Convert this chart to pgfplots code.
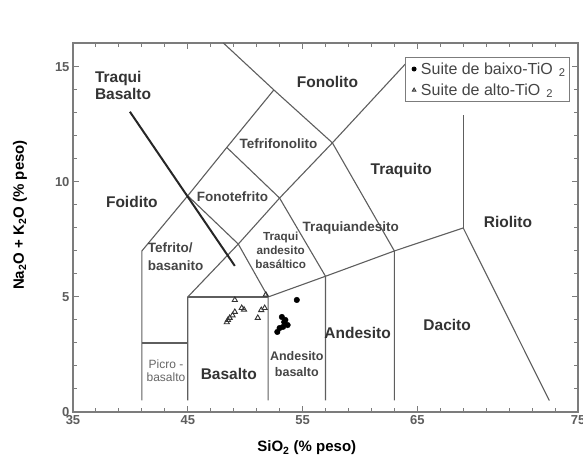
\documentclass[border=0pt]{standalone}
\usepackage{fontspec}
\setmainfont{Liberation Sans}
\usepackage{pgfplots}
\pgfplotsset{compat=1.18}
\definecolor{txt}{HTML}{333333}
\definecolor{txtl}{HTML}{454545}
\definecolor{ln}{HTML}{5E5E5E}
\definecolor{ax}{HTML}{7C7C7C}
\begin{document}
\begin{tikzpicture}
\useasboundingbox (-73pt,-46pt) rectangle (510pt,412pt);
\begin{axis}[
  at={(0,0)}, anchor=south west,
  scale only axis, width=505pt, height=369pt,
  xmin=35, xmax=79, ymin=0, ymax=16.04,
  axis line style={ax, line width=1.6pt},
  xtick={35,45,55,65,79}, xticklabels={35,45,55,65,75},
  ytick={0,5,10,15},
  minor xtick={37,39,...,77},
  minor ytick={1,2,...,16},
  tick align=inside,
  major tick length=6pt, minor tick length=4pt,
  every tick/.style={ax, line width=1pt},
  /pgf/number format/assume math mode=true,
  ticklabel style={font=\bfseries\fontsize{13}{13}\selectfont, text=ax!75!black},
  xlabel={SiO\textsubscript{2} (\% peso)},
  ylabel={Na\textsubscript{2}O + K\textsubscript{2}O (\% peso)},
  label style={font=\bfseries\fontsize{15}{15}\selectfont, text=black},
  xlabel style={at={(axis description cs:0.463,-0.0976)}, anchor=center},
  ylabel style={at={(axis description cs:-0.105,0.534)}, anchor=center},
  legend style={at={(axis description cs:0.9842,0.962)}, anchor=north east,
    draw=ax, line width=0.9pt, fill=white, font=\fontsize{16}{18}\selectfont,
    text=txtl, inner xsep=2pt, inner ysep=3pt, row sep=4pt},
  legend cell align=left,
  legend image code/.code={\path[draw=none, fill=none] (-0.22cm,0) -- (0.17cm,0); \draw[#1, mark size=2pt] plot coordinates {(0.0cm,0cm)};},
  clip=false,
]
% field boundaries (TAS diagram)
\pgfplotsset{bnd/.style={ln, line width=1.1pt, forget plot, mark=none}}
\addplot[bnd] coordinates {(41,0.5) (41,7) (45,9.4) (48.4,11.5) (52.5,14)};
\addplot[bnd] coordinates {(48.1,16.04) (52.5,14) (57.6,11.7) (63,7) (63,0.5)};
\addplot[bnd] coordinates {(45,0.5) (45,5) (49.4,7.3) (53,9.3) (57.6,11.7) (64,15.15)};
\addplot[bnd] coordinates {(45,9.4) (49.4,7.3) (52,5) (52,0.5)};
\addplot[bnd] coordinates {(48.4,11.5) (53,9.3) (57,5.9) (57,0.5)};
\addplot[bnd] coordinates {(41,3) (45,3)};
\addplot[bnd] coordinates {(45,5) (52,5)};
\addplot[bnd] coordinates {(52,5) (57,5.9) (63,7) (69,8) (76.5,0.5)};
\addplot[bnd] coordinates {(69,8) (69,12.9)};
% pointer for Traqui Basalto
\addplot[forget plot, black!85, line width=2pt, mark=none] coordinates {(39.96,13.05) (49.1,6.35)};
% data
\addplot[only marks, mark=*, mark size=2.8pt, black] coordinates {
(54.5,4.87) (53.2,4.13) (53.4,3.91) (53.7,3.78) (53.0,3.65) (53.3,3.7) (52.8,3.48) (53.5,4.0)};
\addlegendentry{Suite de baixo-TiO\hspace{6pt}\textsubscript{2}}
\addplot[only marks, mark=triangle, mark size=3pt, black!80, line width=0.9pt] coordinates {
(49.1,4.87) (49.7,4.52) (49.9,4.45) (48.65,4.09) (48.4,3.9) (48.9,4.2) (49.1,4.35) (48.5,4.0)
(51.8,5.1) (51.4,4.43) (51.1,4.09) (51.7,4.52)};
\addlegendentry{Suite de alto-TiO\hspace{6pt}\textsubscript{2}}
% labels
\tikzset{big/.style={font=\bfseries\fontsize{15.5}{17}\selectfont, text=txt, align=center, inner sep=0pt},
         sml/.style={font=\bfseries\fontsize{13.5}{15}\selectfont, text=txtl, align=center, inner sep=0pt}}
\node[big, anchor=west, align=left] at (axis cs:36.9,14.2) {Traqui\\Basalto};
\node[big] at (axis cs:57.17,14.35) {Fonolito};
\node[sml] at (axis cs:52.9,11.65) {Tefrifonolito};
\node[big] at (axis cs:63.6,10.5) {Traquito};
\node[big] at (axis cs:40.13,9.13) {Foidito};
\node[sml] at (axis cs:48.9,9.35) {Fonotefrito};
\node[sml] at (axis cs:59.2,8.0) {Traquiandesito};
\node[big] at (axis cs:72.9,8.26) {Riolito};
\node[sml, anchor=west, align=left, font=\bfseries\fontsize{13.5}{18}\selectfont] at (axis cs:41.5,6.74) {Tefrito/\\basanito};
\node[sml, font=\bfseries\fontsize{11.7}{14}\selectfont] at (axis cs:53.1,7.04) {Traqui\\andesito\\basáltico};
\node[big] at (axis cs:59.8,3.43) {Andesito};
\node[big] at (axis cs:67.6,3.78) {Dacito};
\node[sml, font=\bfseries\fontsize{12.5}{16}\selectfont] at (axis cs:54.5,2.09) {Andesito\\basalto};
\node[big] at (axis cs:48.57,1.65) {Basalto};
\node[sml, font=\fontsize{12}{13}\selectfont, text=black!60] at (axis cs:43.1,1.78) {Picro -\\basalto};
\end{axis}
\end{tikzpicture}
\end{document}
